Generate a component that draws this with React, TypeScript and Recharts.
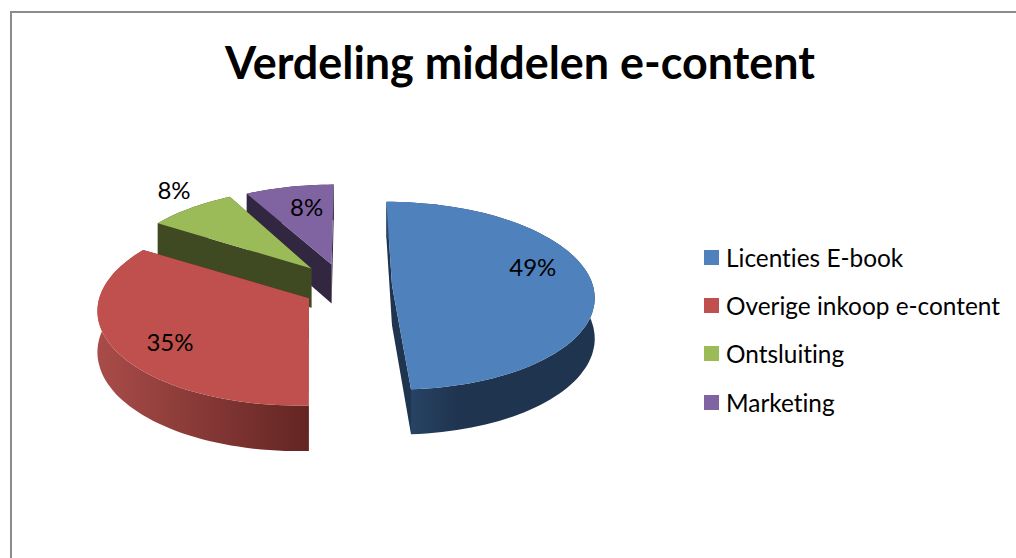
import { PieChart, Pie, Legend } from 'recharts';

const categories = ['Licenties E-book', 'Overige inkoop e-content', 'Ontsluiting', 'Marketing'];
const shares = [49, 35, 8, 8];
const topColors = ['#4f81bd', '#c0504d', '#9bbb59', '#8064a2'];
const wallColors = ['#1f344f', '#632523', '#404a22', '#322741'];
const rimLeftColors = ['#2b4a6e', '#a94c49', '#404a22', '#322741'];

// label placement per slice: distance along the slice middle (in radii) and a nudge in px
const labelReach = [0.7, 0.72, 1.14, 0.6];
const labelNudge = [-15, 10, -11, -9];

// small per slice corrections, the original 3D projection is not a clean one
const sliceDx = [-1, 0, 1, -1];
const sliceDy = [2, 3, 0, 1];
const apexDx = [1, 5, -3, -1];
const rimTrim = [0, 1.1, 0, 0];

const RADIUS = 202;
const CX = 345;
const CY = 284;
const SQUASH = 0.46; // flattening of the tilted disc
const PERSPECTIVE = 0.11; // front of the disc comes closer
const EXPLODE = 0.233;
const DEPTH = 40;

// drawn back to front, so the slices go counter-clockwise from the top
const rows = categories
  .map((name, i) => ({ name, value: shares[i], fill: topColors[i], idx: i }))
  .reverse();

const rad = (a: number) => (a * Math.PI) / 180;

// world point on the disc plane -> screen
function project(wx: number, wy: number, drop = 0) {
  const k = 1 / (1 - (PERSPECTIVE * wy) / RADIUS);
  return { x: CX + wx * k, y: CY + (wy * SQUASH + drop) * k };
}

function worldPoint(angle: number, r: number, midAngle: number) {
  const off = EXPLODE * RADIUS;
  return {
    wx: off * Math.cos(rad(midAngle)) + r * Math.cos(rad(angle)),
    wy: -off * Math.sin(rad(midAngle)) - r * Math.sin(rad(angle)),
  };
}

const toPath = (pts: { x: number; y: number }[]) =>
  'M' + pts.map((p) => `${p.x.toFixed(1)},${p.y.toFixed(1)}`).join('L') + 'Z';

function Slice3D(props: any) {
  const { startAngle, endAngle, outerRadius, fill, payload } = props;
  const i = payload.idx;
  const mid = (startAngle + endAngle) / 2;
  const rimEnd = endAngle - rimTrim[i];
  const steps = Math.max(6, Math.ceil(Math.abs(rimEnd - startAngle) / 2));
  const rim: { wx: number; wy: number }[] = [];
  for (let s = 0; s <= steps; s++) {
    rim.push(worldPoint(startAngle + ((rimEnd - startAngle) * s) / steps, outerRadius, mid));
  }
  const apex = worldPoint(mid, 0, mid);
  apex.wx += apexDx[i];
  const top = [project(apex.wx, apex.wy), ...rim.map((p) => project(p.wx, p.wy))];
  const first = rim[0];
  const last = rim[rim.length - 1];
  const face = (p: { wx: number; wy: number }) => [
    project(apex.wx, apex.wy),
    project(p.wx, p.wy),
    project(p.wx, p.wy, DEPTH),
    project(apex.wx, apex.wy, DEPTH),
  ];
  const outer = [
    ...rim.map((p) => project(p.wx, p.wy)),
    ...[...rim].reverse().map((p) => project(p.wx, p.wy, DEPTH)),
  ];
  const wall = wallColors[i];
  return (
    <g transform={`translate(${sliceDx[i]},${sliceDy[i]})`}>
      <path d={toPath(face(first))} fill={wall} />
      <path d={toPath(face(last))} fill={wall} />
      <path d={toPath(outer)} fill={`url(#rim${i})`} />
      <path d={toPath(top)} fill={fill} />
    </g>
  );
}

function SliceLabel(props: any) {
  const { midAngle, outerRadius, payload, value } = props;
  const row = payload?.idx !== undefined ? payload : props;
  const w = worldPoint(midAngle, labelReach[row.idx] * outerRadius, midAngle);
  const p = project(w.wx, w.wy);
  return (
    <text
      x={p.x}
      y={p.y + labelNudge[row.idx]}
      textAnchor="middle"
      dominantBaseline="central"
      fontFamily="Lato"
      fontSize={24}
      fill="#000"
    >
      {value}%
    </text>
  );
}

function LegendRows({ payload }: any) {
  return (
    <div style={{ fontFamily: 'Lato', fontSize: 24.4, color: '#000', fontVariantLigatures: 'none' }}>
      {[...(payload ?? [])].reverse().map((item: any) => (
        <div key={item.value} style={{ height: 48.3, display: 'flex', alignItems: 'center', whiteSpace: 'nowrap' }}>
          <span style={{ width: 15, height: 15, background: item.color, marginRight: 7, flex: 'none' }} />
          {item.value}
        </div>
      ))}
    </div>
  );
}

export default function App() {
  return (
    <div style={{ position: 'absolute', left: 0, top: 0, width: 1016, height: 558, background: '#fff', overflow: 'hidden' }}>
      <div style={{ position: 'absolute', left: 10, top: 11, right: 0, bottom: 0, borderLeft: '2px solid #8c8c8c', borderTop: '2px solid #8c8c8c' }} />
      <div
        style={{
          position: 'absolute',
          left: 0,
          width: 1040,
          top: 32,
          textAlign: 'center',
          fontFamily: 'Lato',
          fontWeight: 700,
          fontSize: 44.9,
          lineHeight: '60px',
          color: '#000',
          whiteSpace: 'nowrap',
          fontVariantLigatures: 'none',
        }}
      >
        Verdeling middelen e-content
      </div>
      <div style={{ position: 'absolute', left: 0, top: 0 }}>
        <PieChart width={1016} height={558} margin={{ top: 0, right: 0, bottom: 0, left: 0 }}>
          <defs>
            {categories.map((_, i) => (
              <linearGradient key={i} id={`rim${i}`} x1="0" y1="0" x2="1" y2="0">
                <stop offset="0%" stopColor={rimLeftColors[i]} />
                <stop offset={i === 0 ? '35%' : '100%'} stopColor={wallColors[i]} />
              </linearGradient>
            ))}
          </defs>
          <Pie
            data={rows}
            dataKey="value"
            nameKey="name"
            cx={CX}
            cy={CY}
            outerRadius={RADIUS}
            startAngle={-270}
            endAngle={90}
            stroke="none"
            shape={Slice3D}
            label={SliceLabel}
            labelLine={false}
            isAnimationActive={false}
          />
          <Legend
            layout="vertical"
            align="left"
            verticalAlign="top"
            itemSorter={null}
            wrapperStyle={{ left: 704, top: 233, width: 312 }}
            content={LegendRows}
          />
        </PieChart>
      </div>
    </div>
  );
}
